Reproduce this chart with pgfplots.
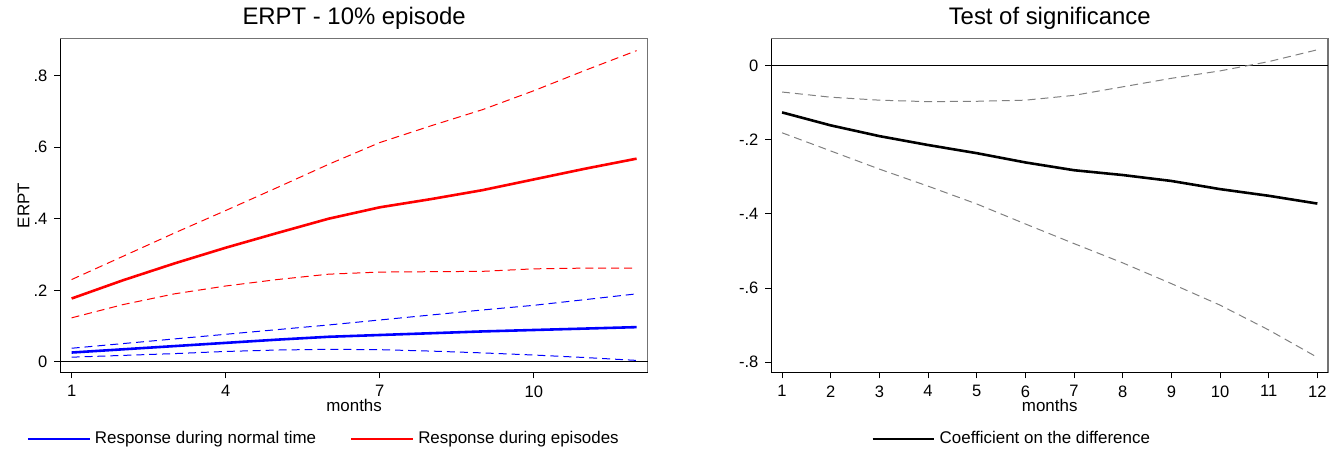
\documentclass[border=0pt]{standalone}
\usepackage{pgfplots}
\pgfplotsset{compat=1.18}
\usepackage{fontspec}
\setmainfont{Liberation Sans}
\begin{document}
\pgfplotsset{
  stcommon/.style={
    scale only axis,
    height=167.5pt,
    xmin=0.78, xmax=12.22,
    axis line style={black!55, line width=0.6pt},
    tick align=outside,
    xtick pos=left, ytick pos=left,
    major tick length=3pt,
    tick style={black, line width=0.5pt},
    /pgf/number format/assume math mode=true,
    tick label style={font=\fontsize{8.3}{9}\selectfont},
    label style={font=\fontsize{8.5}{10}\selectfont},
    every axis title shift=0pt,
    title style={font=\fontsize{12}{14}\selectfont, at={(axis description cs:0.5,1)}, anchor=center, yshift=10.5pt},
    every axis x label/.append style={at={(axis description cs:0.5,-0.0985)}, anchor=center},
    legend style={draw=none, fill=none, inner sep=0pt, font=\fontsize{8.5}{10}\selectfont,
      nodes={inner sep=2pt}},
    legend cell align=left,
    legend image code/.code={\draw[#1] (0pt,0pt) -- (31pt,0pt);},
    after end axis/.code={
      \draw[black, line width=0.7pt] (rel axis cs:0,1) -- (rel axis cs:0,0) -- (rel axis cs:1,0);
    },
  },
  ci/.style={line width=0.5pt, dash pattern=on 4pt off 2.5pt, forget plot},
}
\begin{tikzpicture}
\useasboundingbox (0,0) rectangle (672pt,227pt);
% ---------- Left panel ----------
\begin{axis}[stcommon,
  at={(27.5pt,40pt)}, anchor=south west,
  width=295pt,
  ymin=-0.0297, ymax=0.903,
  xtick={1,4,7,10},
  ytick={0,0.2,0.4,0.6,0.8},
  yticklabels={0,.2,.4,.6,.8},
  title={ERPT - 10\% episode},
  xlabel={months},
  ylabel={ERPT},
  every axis y label/.append style={at={(axis description cs:-0.0627,0.5)}, anchor=center},
  legend columns=2,
  legend style={at={(axis description cs:-0.058,-0.2)}, anchor=west,
    /tikz/every even column/.append style={column sep=15pt}},
]
\addplot[black, line width=0.6pt, forget plot] coordinates {(0.78,0) (12.22,0)};
% blue CI
\addplot[blue, ci] coordinates {(1,0.038)(2,0.051)(3,0.064)(4,0.077)(5,0.090)(6,0.103)(7,0.117)(8,0.131)(9,0.145)(10,0.158)(11,0.174)(12,0.190)};
\addplot[blue, ci] coordinates {(1,0.013)(2,0.018)(3,0.023)(4,0.029)(5,0.033)(6,0.035)(7,0.034)(8,0.030)(9,0.025)(10,0.019)(11,0.012)(12,0.004)};
% red CI
\addplot[red, ci] coordinates {(1,0.230)(2,0.295)(3,0.360)(4,0.423)(5,0.487)(6,0.552)(7,0.613)(8,0.660)(9,0.705)(10,0.758)(11,0.815)(12,0.870)};
\addplot[red, ci] coordinates {(1,0.123)(2,0.160)(3,0.190)(4,0.212)(5,0.230)(6,0.245)(7,0.251)(8,0.252)(9,0.253)(10,0.260)(11,0.262)(12,0.262)};
% main lines
\addplot[blue, line width=1.3pt] coordinates {(1,0.026)(2,0.035)(3,0.044)(4,0.053)(5,0.062)(6,0.070)(7,0.075)(8,0.080)(9,0.085)(10,0.089)(11,0.093)(12,0.097)};
\addlegendentry{Response during normal time}
\addplot[red, line width=1.3pt] coordinates {(1,0.177)(2,0.228)(3,0.275)(4,0.319)(5,0.360)(6,0.400)(7,0.432)(8,0.455)(9,0.480)(10,0.510)(11,0.540)(12,0.568)};
\addlegendentry{Response during episodes}
\end{axis}
% ---------- Right panel ----------
\begin{axis}[stcommon,
  at={(384.5pt,40pt)}, anchor=south west,
  width=279.5pt,
  ymin=-0.8277, ymax=0.0725,
  xtick={1,2,3,4,5,6,7,8,9,10,11,12},
  ytick={-0.8,-0.6,-0.4,-0.2,0},
  yticklabels={-.8,-.6,-.4,-.2,0},
  title={Test of significance},
  xlabel={months},
  legend style={at={(axis description cs:0.179,-0.2)}, anchor=west},
]
\addplot[black, line width=0.6pt, forget plot] coordinates {(0.78,0) (12.22,0)};
\addplot[black!50, ci] coordinates {(1,-0.071)(2,-0.085)(3,-0.093)(4,-0.097)(5,-0.096)(6,-0.093)(7,-0.080)(8,-0.057)(9,-0.034)(10,-0.014)(11,0.011)(12,0.043)};
\addplot[black!50, ci] coordinates {(1,-0.181)(2,-0.230)(3,-0.279)(4,-0.325)(5,-0.373)(6,-0.427)(7,-0.480)(8,-0.532)(9,-0.588)(10,-0.646)(11,-0.713)(12,-0.787)};
\addplot[black, line width=1.3pt] coordinates {(1,-0.126)(2,-0.161)(3,-0.190)(4,-0.214)(5,-0.236)(6,-0.261)(7,-0.282)(8,-0.295)(9,-0.311)(10,-0.333)(11,-0.351)(12,-0.372)};
\addlegendentry{Coefficient on the difference}
\end{axis}
\end{tikzpicture}
\end{document}
